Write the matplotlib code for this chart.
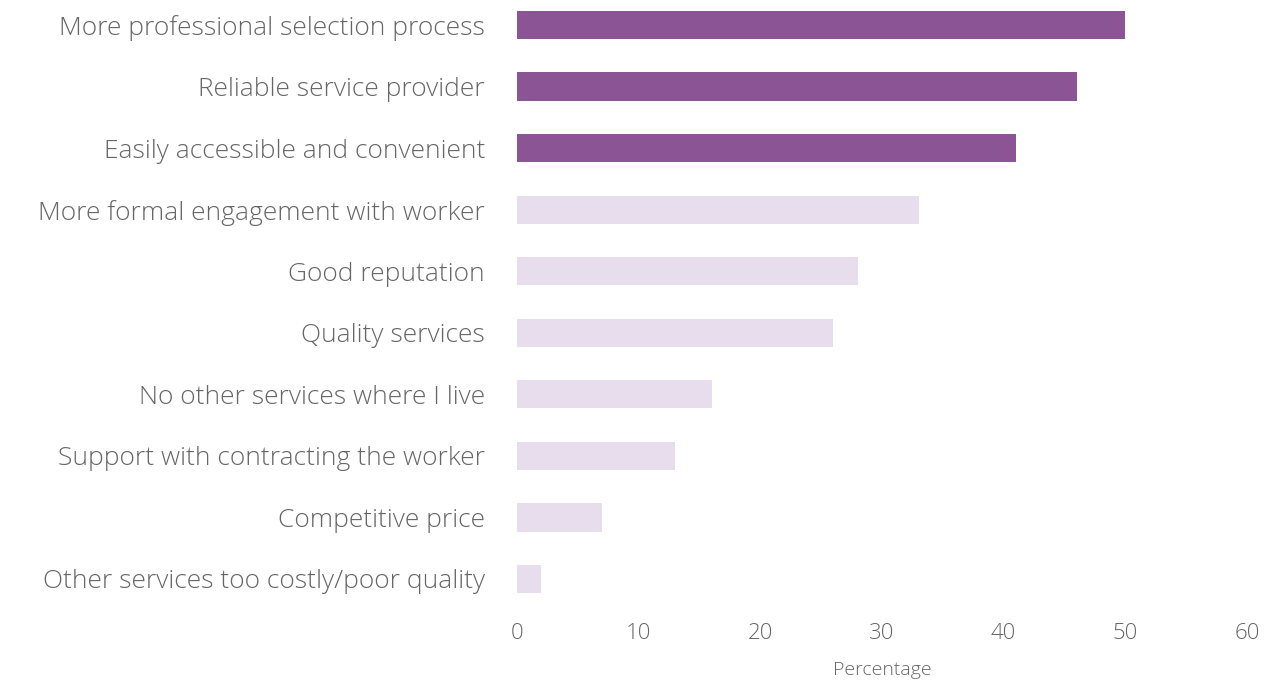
import matplotlib
matplotlib.use('Agg')
import matplotlib.pyplot as plt

categories = [
    'More professional selection process',
    'Reliable service provider',
    'Easily accessible and convenient',
    'More formal engagement with worker',
    'Good reputation',
    'Quality services',
    'No other services where I live',
    'Support with contracting the worker',
    'Competitive price',
    'Other services too costly/poor quality',
]
values = [50, 46, 41, 33, 28, 26, 16, 13, 7, 2]
highlight = [True, True, True, False, False, False, False, False, False, False]
ticks = [0, 10, 20, 30, 40, 50, 60]

DARK = '#8B5595'
LIGHT = '#E8DDEC'
TXT = '#666666'

plt.rcParams['font.family'] = ['Open Sans', 'DejaVu Sans']

fig = plt.figure(figsize=(12.73, 6.84), dpi=100)
ax = fig.add_axes([517 / 1273, 1 - 603.6 / 684, 730 / 1273, 603.2 / 684])

colors = [DARK if h else LIGHT for h in highlight]
ax.barh(range(len(categories)), values, height=0.46, color=colors)

ax.set_xlim(0, 60)
ax.set_ylim(9.4, -0.4)
ax.set_yticks(range(len(categories)))
ax.set_yticklabels(categories, fontsize=19, color=TXT, fontweight='light')
ax.set_xticks(ticks)
ax.set_xticklabels([str(t) for t in ticks], fontsize=16, color=TXT, fontweight='light')
ax.tick_params(axis='y', length=0, pad=23)
ax.tick_params(axis='x', length=0, pad=14)
for s in ax.spines.values():
    s.set_visible(False)
ax.set_xlabel('Percentage', fontsize=14, color=TXT, labelpad=12.5, fontweight='light')

fig.savefig('out.png', dpi=100)
